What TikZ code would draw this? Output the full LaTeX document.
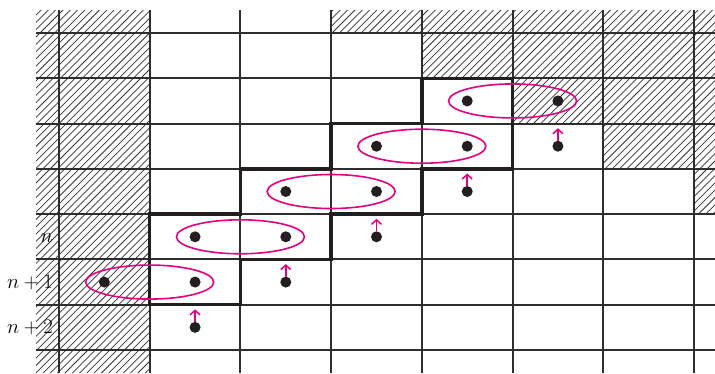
\documentclass[tikz,border=0pt]{standalone}
\usetikzlibrary{shapes.geometric,arrows.meta}
\definecolor{mag}{HTML}{E6007E}
\definecolor{gridc}{HTML}{2E2E2E}
\definecolor{dotc}{HTML}{231F20}
\begin{document}
\begin{tikzpicture}[x=1pt,y=-1pt,
  gridline/.style={gridc,line width=2pt},
  outline/.style={dotc,line width=3.4pt,line join=miter},
  hatchline/.style={black!80,line width=0.75pt},
  dot/.style={circle,fill=dotc,inner sep=0pt,minimum size=11pt},
  pair/.style={ellipse,draw=mag,line width=1.6pt,minimum width=128pt,minimum height=34pt,inner sep=0pt},
  uparr/.style={mag,line width=1.5pt,-{Straight Barb[length=4.5pt,width=10pt]}},
  lab/.style={font=\fontsize{21}{25}\selectfont,anchor=base east,inner sep=0pt}]
\useasboundingbox (0,0) rectangle (715,373);
% hatching
\begin{scope}
  \clip (36,10) rectangle (149.71,373)
        (331.14,10) -- (715,10) -- (715,214.14) -- (694,214.14) -- (694,168.86)
        -- (603.29,168.86) -- (603.29,123.57) -- (512.57,123.57) -- (512.57,78.29)
        -- (421.86,78.29) -- (421.86,33) -- (331.14,33) -- cycle;
  \foreach \c in {0,7.3,...,1100} \draw[hatchline] (\c,0) -- (\c-380,380);
\end{scope}
% grid
\foreach \i in {0,...,7} {
  \draw[gridline] ({59+90.714*\i},10) -- ({59+90.714*\i},373);
  \draw[gridline] (36,{33+45.286*\i}) -- (715,{33+45.286*\i});
}
% thick staircase outline
\draw[outline] (149.71,214.14) -- (240.43,214.14) -- (240.43,168.86) -- (331.14,168.86)
  -- (331.14,123.57) -- (421.86,123.57) -- (421.86,78.29) -- (512.57,78.29)
  -- (512.57,168.86) -- (421.86,168.86) -- (421.86,214.14) -- (331.14,214.14)
  -- (331.14,259.43) -- (240.43,259.43) -- (240.43,304.71) -- (149.71,304.71) -- cycle;
% ellipses
\node[pair] (e2) at (512.57,100.93) {};
\node[pair] (e3) at (421.86,146.21) {};
\node[pair] (e4) at (331.14,191.50) {};
\node[pair] (e5) at (240.43,236.79) {};
\node[pair] (e6) at (149.71,282.07) {};
% paired dots
\node[dot] (d25) at (467.21,100.93) {};
\node[dot] (d26) at (557.93,100.93) {};
\node[dot] (d34) at (376.50,146.21) {};
\node[dot] (d35) at (467.21,146.21) {};
\node[dot] (d43) at (285.79,191.50) {};
\node[dot] (d44) at (376.50,191.50) {};
\node[dot] (d52) at (195.07,236.79) {};
\node[dot] (d53) at (285.79,236.79) {};
\node[dot] (d61) at (104.36,282.07) {};
\node[dot] (d62) at (195.07,282.07) {};
% single dots with arrows
\node[dot] (s36) at (557.93,146.21) {};
\node[dot] (s45) at (467.21,191.50) {};
\node[dot] (s54) at (376.50,236.79) {};
\node[dot] (s63) at (285.79,282.07) {};
\node[dot] (s72) at (195.07,327.36) {};
\foreach \s in {s36,s45,s54,s63,s72}
  \draw[uparr] ([yshift=5.5pt]\s.center) -- ([yshift=18pt]\s.center);
% labels
\node[lab] (ln)  at (53,242.8) {$n$};
\node[lab] (ln1) at (53,288.6) {$n+1$};
\node[lab] (ln2) at (53,333.4) {$n+2$};
\end{tikzpicture}
\end{document}
